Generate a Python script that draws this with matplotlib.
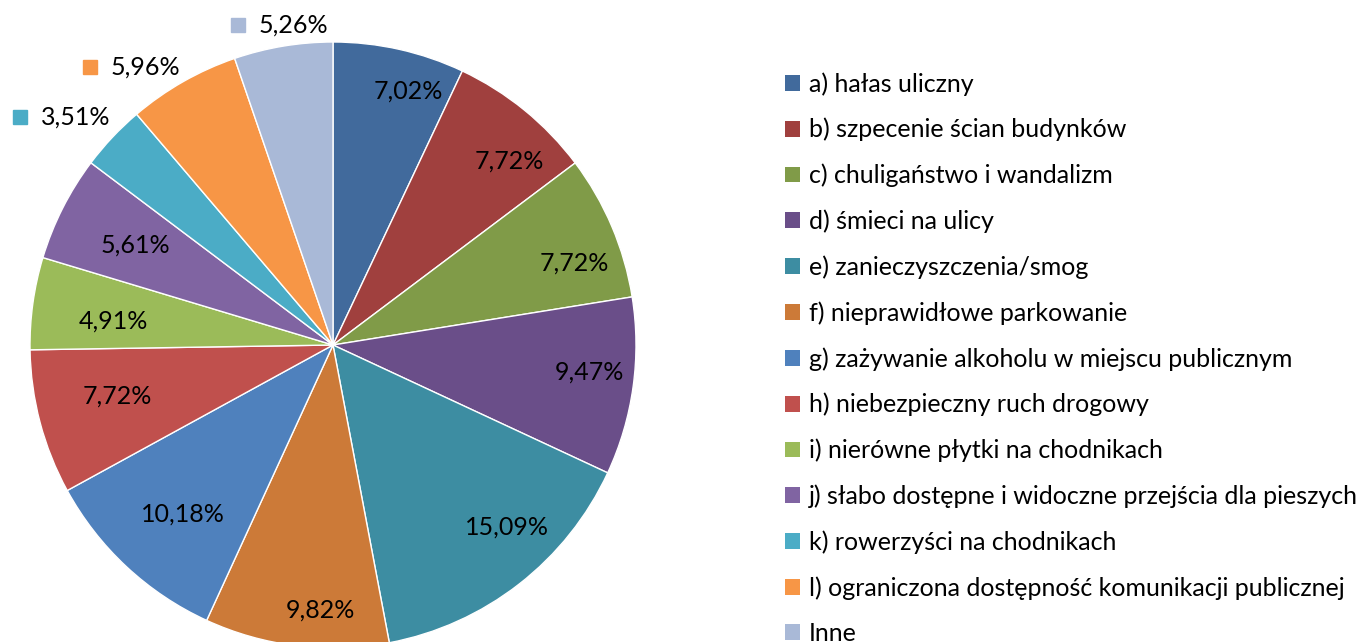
import numpy as np
import matplotlib
matplotlib.use('Agg')
import matplotlib.pyplot as plt
from matplotlib.patches import Patch
from matplotlib.transforms import ScaledTranslation

plt.rcParams['font.family'] = ['Lato', 'DejaVu Sans']

# dane
categories = ['a) hałas uliczny', 'b) szpecenie ścian budynków', 'c) chuligaństwo i wandalizm',
              'd) śmieci na ulicy', 'e) zanieczyszczenia/smog', 'f) nieprawidłowe parkowanie',
              'g) zażywanie alkoholu w miejscu publicznym', 'h) niebezpieczny ruch drogowy',
              'i) nierówne płytki na chodnikach', 'j) słabo dostępne i widoczne przejścia dla pieszych',
              'k) rowerzyści na chodnikach', 'l) ograniczona dostępność komunikacji publicznej', 'Inne']
values = [7.02, 7.72, 7.72, 9.47, 15.09, 9.82, 10.18, 7.72, 4.91, 5.61, 3.51, 5.96, 5.26]
colors = ['#416a9c', '#a0403e', '#809b48', '#6a4e89', '#3d8da2', '#cc7a38', '#4f81bd',
          '#c0504d', '#9bbb59', '#8064a2', '#4bacc6', '#f79646', '#a9b9d7']

# rozmieszczenie etykiet (promien wzgledny i przesuniecie kata w stopniach)
outside = [False] * 10 + [True] * 3
label_r = [0.874, 0.842, 0.84, 0.851, 0.831, 0.876, 0.747, 0.731, 0.729, 0.73, 1.176, 1.139, 1.073]
label_da = [-3.9, -4.6, -4.3, 1.8, 5.7, 4.2, 1.3, -1.4, 1.8, 0.1, 3.6, 6.6, 0.5]

W, H = 1368, 642
fig = plt.figure(figsize=(W / 100, H / 100), dpi=100)
cx, cy, r = 333, H - 345, 303
ax = fig.add_axes([(cx - r) / W, (cy - r) / H, 2 * r / W, 2 * r / H])

wedges, _ = ax.pie(values, colors=colors, startangle=90, counterclock=False,
                   wedgeprops=dict(edgecolor='white', linewidth=1))
ax.set_xlim(-1, 1)
ax.set_ylim(-1, 1)
ax.set_aspect('equal')
ax.axis('off')

fs = 18
for w, v, c, out, lr, da in zip(wedges, values, colors, outside, label_r, label_da):
    ang = np.deg2rad((w.theta1 + w.theta2) / 2 + da)
    x, y = lr * np.cos(ang), lr * np.sin(ang)
    txt = f'{v:.2f}%'.replace('.', ',')
    if not out:
        ax.text(x, y, txt, ha='center', va='center', fontsize=fs, color='black')
    else:
        # klucz legendy przy etykiecie
        ax.plot([x], [y], marker='s', ms=10.5, color=c, clip_on=False,
                transform=ax.transData + ScaledTranslation(-0.39, 0, fig.dpi_scale_trans))
        ax.annotate(txt, (x, y), xytext=(-18, 0), textcoords='offset pixels',
                    ha='left', va='center', fontsize=fs, color='black',
                    annotation_clip=False)

handles = [Patch(facecolor=c, edgecolor='none') for c in colors]
fig.legend(handles, categories, loc='upper left', bbox_to_anchor=(785 / W, 1 - 72 / H),
           frameon=False, fontsize=fs, handlelength=0.6, handleheight=0.6,
           handletextpad=0.35, labelspacing=0.89, borderpad=0, borderaxespad=0)

fig.savefig('out.png', dpi=100)
